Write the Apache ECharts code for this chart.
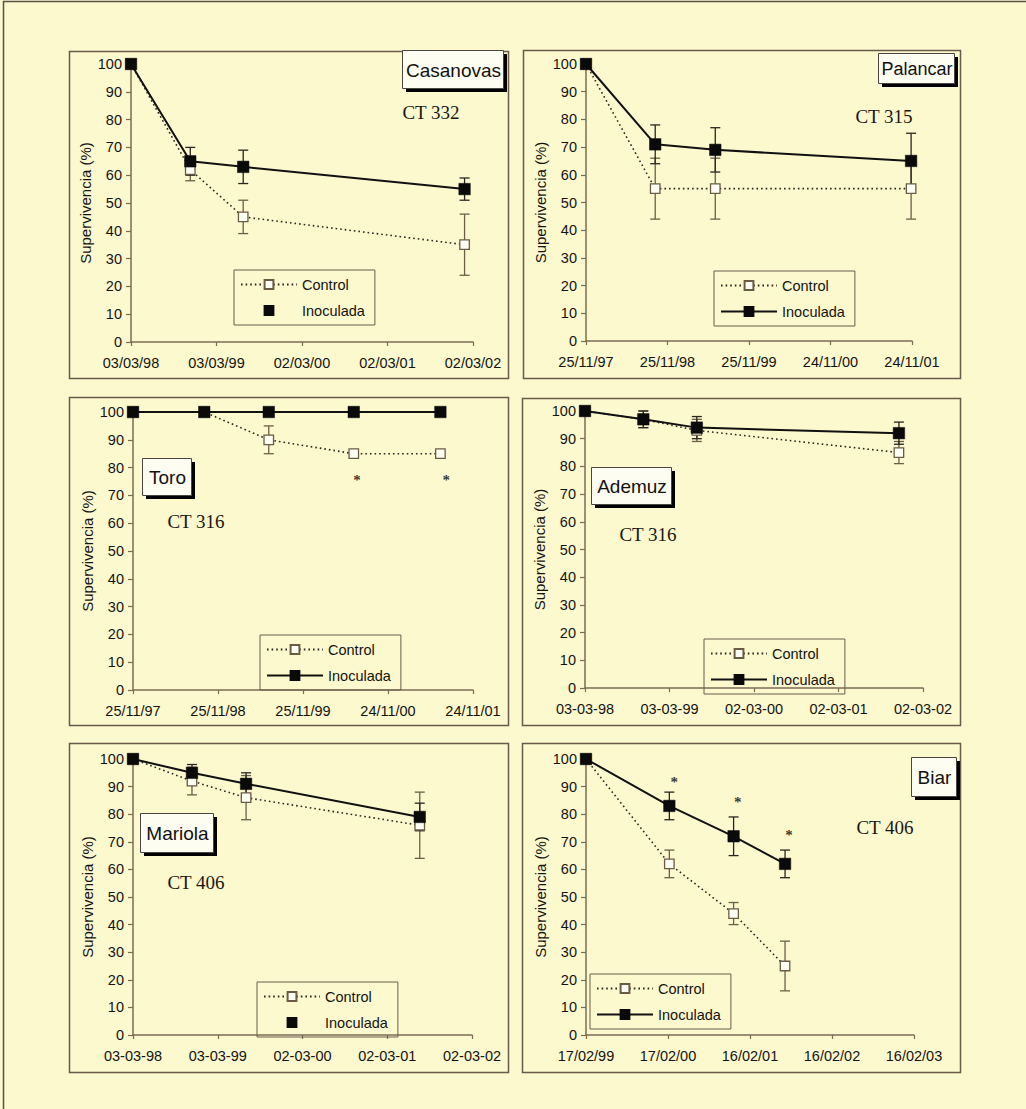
<!DOCTYPE html>
<html><head><meta charset="utf-8">
<script src="https://cdn.jsdelivr.net/npm/echarts@6/dist/echarts.min.js"></script>
<style>html,body{margin:0;padding:0;background:#fcf9cf;}#c{width:1026px;height:1109px;}</style>
</head><body><div id="c"></div>
<script>
// ---------------- DATA ----------------
// x values are days since the first tick date of each panel
const casTicks = ['03/03/98','03/03/99','02/03/00','02/03/01','02/03/02'];
const casDays = [0, 253, 479, 1424];
const casControl = [100, 62, 45, 35];
const casControlErr = [0, 4, 6, 11];
const casInoc = [100, 65, 63, 55];
const casInocErr = [0, 5, 6, 4];

const palTicks = ['25/11/97','25/11/98','25/11/99','24/11/00','24/11/01'];
const palDays = [0, 310, 579, 1456];
const palControl = [100, 55, 55, 55];
const palControlErr = [0, 11, 11, 11];
const palInoc = [100, 71, 69, 65];
const palInocErr = [0, 7, 8, 10];

const toroTicks = ['25/11/97','25/11/98','25/11/99','24/11/00','24/11/01'];
const toroDays = [0, 306, 583, 948, 1320];
const toroControl = [100, 100, 90, 85, 85];
const toroControlErr = [0, 0, 5, 0, 0];
const toroInoc = [100, 100, 100, 100, 100];
const toroInocErr = [0, 0, 0, 0, 0];
const toroStarDays = [962, 1345];
const toroStarVals = [77, 77];

const ademTicks = ['03-03-98','03-03-99','02-03-00','02-03-01','02-03-02'];
const ademDays = [0, 252, 483, 1356];
const ademControl = [100, 97, 93, 85];
const ademControlErr = [0, 3, 4, 4];
const ademInoc = [100, 97, 94, 92];
const ademInocErr = [0, 3, 4, 4];

const marTicks = ['03-03-98','03-03-99','02-03-00','02-03-01','02-03-02'];
const marDays = [0, 254, 487, 1235];
const marControl = [100, 92, 86, 76];
const marControlErr = [0, 5, 8, 12];
const marInoc = [100, 95, 91, 79];
const marInocErr = [0, 3, 4, 5];

const biarTicks = ['17/02/99','17/02/00','16/02/01','16/02/02','16/02/03'];
const biarDays = [0, 371, 657, 886];
const biarControl = [100, 62, 44, 25];
const biarControlErr = [0, 5, 4, 9];
const biarInoc = [100, 83, 72, 62];
const biarInocErr = [0, 5, 7, 5];
const biarStarDays = [393, 676, 904];
const biarStarVals = [93, 86, 74];

const siteNames = ['Casanovas','Palancar','Toro','Ademuz','Mariola','Biar'];
const ctLabels = ['CT 332','CT 315','CT 316','CT 316','CT 406','CT 406'];
const yName = 'Supervivencia (%)';

// ---------------- LAYOUT ----------------
const panels = [
  {ticks:casTicks, days:casDays, c:casControl, ce:casControlErr, n:casInoc, ne:casInocErr,
   frame:[69,51,439,327], grid:[131,64,342,278], legend:[234,270], noInocLine:true,
   title:[402,50,101,38,19], ct:[431,112]},
  {ticks:palTicks, days:palDays, c:palControl, ce:palControlErr, n:palInoc, ne:palInocErr,
   frame:[523,50,437,328], grid:[586,64,326,277], legend:[714,271],
   title:[878,53,76,30,18], ct:[884,116]},
  {ticks:toroTicks, days:toroDays, c:toroControl, ce:toroControlErr, n:toroInoc, ne:toroInocErr,
   starD:toroStarDays, starV:toroStarVals,
   frame:[69,397,439,328], grid:[133,412,340,278], legend:[260,635],
   title:[142,458,49,37,19], ct:[196,521]},
  {ticks:ademTicks, days:ademDays, c:ademControl, ce:ademControlErr, n:ademInoc, ne:ademInocErr,
   frame:[522,398,438,327], grid:[585,411,338,277], legend:[704,639],
   title:[591,467,80,37,19], ct:[648,534]},
  {ticks:marTicks, days:marDays, c:marControl, ce:marControlErr, n:marInoc, ne:marInocErr,
   frame:[69,743,439,329], grid:[133,759,339,276], legend:[257,982], noInocLine:true,
   title:[140,813,73,39,19], ct:[196,882]},
  {ticks:biarTicks, days:biarDays, c:biarControl, ce:biarControlErr, n:biarInoc, ne:biarInocErr,
   starD:biarStarDays, starV:biarStarVals,
   frame:[522,743,438,329], grid:[586,759,328,276], legend:[590,974],
   title:[911,757,45,39,19], ct:[885,827]}
];

const BG = '#fcf9cf';
const AX = '#7d6c55';
const TXT = '#15130f';
const SANS = '"Liberation Sans", Arial, sans-serif';
const SERIF = '"Liberation Serif", "Times New Roman", serif';

function errRender(color) {
  return function (params, api) {
    const x = api.value(0), lo = api.value(1), hi = api.value(2);
    const p1 = api.coord([x, lo]), p2 = api.coord([x, hi]);
    const cw = 5;
    const st = {stroke: color, lineWidth: 1.3};
    return {type:'group', children:[
      {type:'line', shape:{x1:p1[0], y1:p1[1], x2:p2[0], y2:p2[1]}, style:st},
      {type:'line', shape:{x1:p1[0]-cw, y1:p1[1], x2:p1[0]+cw, y2:p1[1]}, style:st},
      {type:'line', shape:{x1:p2[0]-cw, y1:p2[1], x2:p2[0]+cw, y2:p2[1]}, style:st}
    ]};
  };
}

const grid = [], xAxis = [], yAxis = [], series = [], legend = [], graphics = [];

graphics.push({type:'rect', shape:{x:3.5, y:1.5, width:1040, height:1130},
  style:{fill:'none', stroke:'#5a5048', lineWidth:1.5}, z:0});

panels.forEach((p, i) => {
  const [gl, gt, gw, gh] = p.grid;
  grid.push({left:gl, top:gt, width:gw, height:gh, containLabel:false});
  const ticks = p.ticks;
  xAxis.push({type:'value', gridIndex:i, min:0, max:1460, interval:365,
    axisLine:{show:true, lineStyle:{color:AX, width:1.5}},
    axisTick:{show:true, length:4, lineStyle:{color:AX, width:1.2}},
    axisLabel:{fontFamily:SANS, fontSize:14.5, color:TXT, margin:13,
      formatter:(v) => ticks[Math.round(v/365)] || ''},
    splitLine:{show:false}});
  yAxis.push({type:'value', gridIndex:i, min:0, max:100, interval:10,
    name:yName, nameLocation:'middle', nameGap:38,
    nameTextStyle:{fontFamily:SANS, fontSize:15, color:TXT},
    axisLine:{show:true, lineStyle:{color:AX, width:1.5}},
    axisTick:{show:true, length:5, lineStyle:{color:AX, width:1.2}},
    axisLabel:{fontFamily:SANS, fontSize:14.5, color:TXT, margin:9},
    splitLine:{show:false}});

  const cErr = [], nErr = [];
  p.days.forEach((d, j) => {
    if (p.ce[j] > 0) cErr.push([d, p.c[j]-p.ce[j], p.c[j]+p.ce[j]]);
    if (p.ne[j] > 0) nErr.push([d, p.n[j]-p.ne[j], p.n[j]+p.ne[j]]);
  });
  series.push({type:'custom', name:'errC'+i, xAxisIndex:i, yAxisIndex:i, z:1,
    renderItem:errRender('#6e5e48'), encode:{x:0, y:[1,2]}, data:cErr, clip:false, silent:true});
  series.push({type:'custom', name:'errI'+i, xAxisIndex:i, yAxisIndex:i, z:1,
    renderItem:errRender('#2a2520'), encode:{x:0, y:[1,2]}, data:nErr, clip:false, silent:true});
  series.push({type:'line', name:'Control', xAxisIndex:i, yAxisIndex:i, z:3,
    data:p.days.map((d,j)=>[d, p.c[j]]), symbol:'rect', symbolSize:9.5, showAllSymbol:true,
    lineStyle:{type:[1.6,3], width:1.6, color:'#2c2820'},
    itemStyle:{color:'#fffff6', borderColor:'#6b5b45', borderWidth:1.3},
    clip:false, silent:true, animation:false});
  series.push({type:'line', name:'Inoculada', xAxisIndex:i, yAxisIndex:i, z:4,
    data:p.days.map((d,j)=>[d, p.n[j]]), symbol:'rect', symbolSize:11.5, showAllSymbol:true,
    lineStyle:{type:'solid', width:2, color:'#111'},
    itemStyle:{color:'#0a0a0a', borderColor:'#0a0a0a', borderWidth:0.5},
    clip:false, silent:true, animation:false});
  if (p.starD) {
    series.push({type:'scatter', name:'sig'+i, xAxisIndex:i, yAxisIndex:i, z:5,
      data:p.starD.map((d,j)=>[d, p.starV[j]]), symbol:'circle', symbolSize:1,
      itemStyle:{color:'rgba(0,0,0,0)'},
      label:{show:true, position:'inside', formatter:'*', fontFamily:SERIF, fontSize:15,
        fontWeight:'bold', color:'#000', offset:[0,4]},
      silent:true, animation:false});
  }

  legend.push({
    left:p.legend[0], top:p.legend[1], orient:'vertical', selectedMode:false,
    data:[{name:'Control'},
      p.noInocLine ? {name:'Inoculada', lineStyle:{opacity:0, width:0}} : {name:'Inoculada'}],
    itemWidth:56, itemHeight:11, itemGap:11, padding:[7,10,7,6],
    borderColor:'#6b5c4c', borderWidth:1, backgroundColor:'transparent',
    textStyle:{fontFamily:SANS, fontSize:14.5, color:TXT}
  });

  const [fx, fy, fw, fh] = p.frame;
  graphics.push({type:'rect', shape:{x:fx+0.5, y:fy+0.5, width:fw, height:fh},
    style:{fill:'none', stroke:'#6a5a4a', lineWidth:1.5}, z:0, silent:true});
  const [tx, ty, tw, th, tfs] = p.title;
  graphics.push({type:'rect', shape:{x:tx+4, y:ty+4, width:tw, height:th},
    style:{fill:'#000'}, z:100, silent:true});
  graphics.push({type:'rect', shape:{x:tx+0.5, y:ty+0.5, width:tw, height:th},
    style:{fill:'#fefdf2', stroke:'#4a4540', lineWidth:1}, z:101, silent:true});
  graphics.push({type:'text', x:tx+tw/2+1, y:ty+th/2+1, z:102, silent:true,
    style:{text:siteNames[i], fontFamily:SANS, fontSize:tfs, fill:'#111',
      align:'center', verticalAlign:'middle'}});
  graphics.push({type:'text', x:p.ct[0], y:p.ct[1], z:102, silent:true,
    style:{text:ctLabels[i], fontFamily:SERIF, fontSize:19, fill:'#1a1712',
      align:'center', verticalAlign:'middle'}});
});

const chart = echarts.init(document.getElementById('c'), null, {renderer:'svg', width:1026, height:1109});
chart.setOption({
  backgroundColor:BG,
  animation:false,
  grid, xAxis, yAxis, series, legend,
  graphic:{elements:graphics}
});
</script></body></html>
